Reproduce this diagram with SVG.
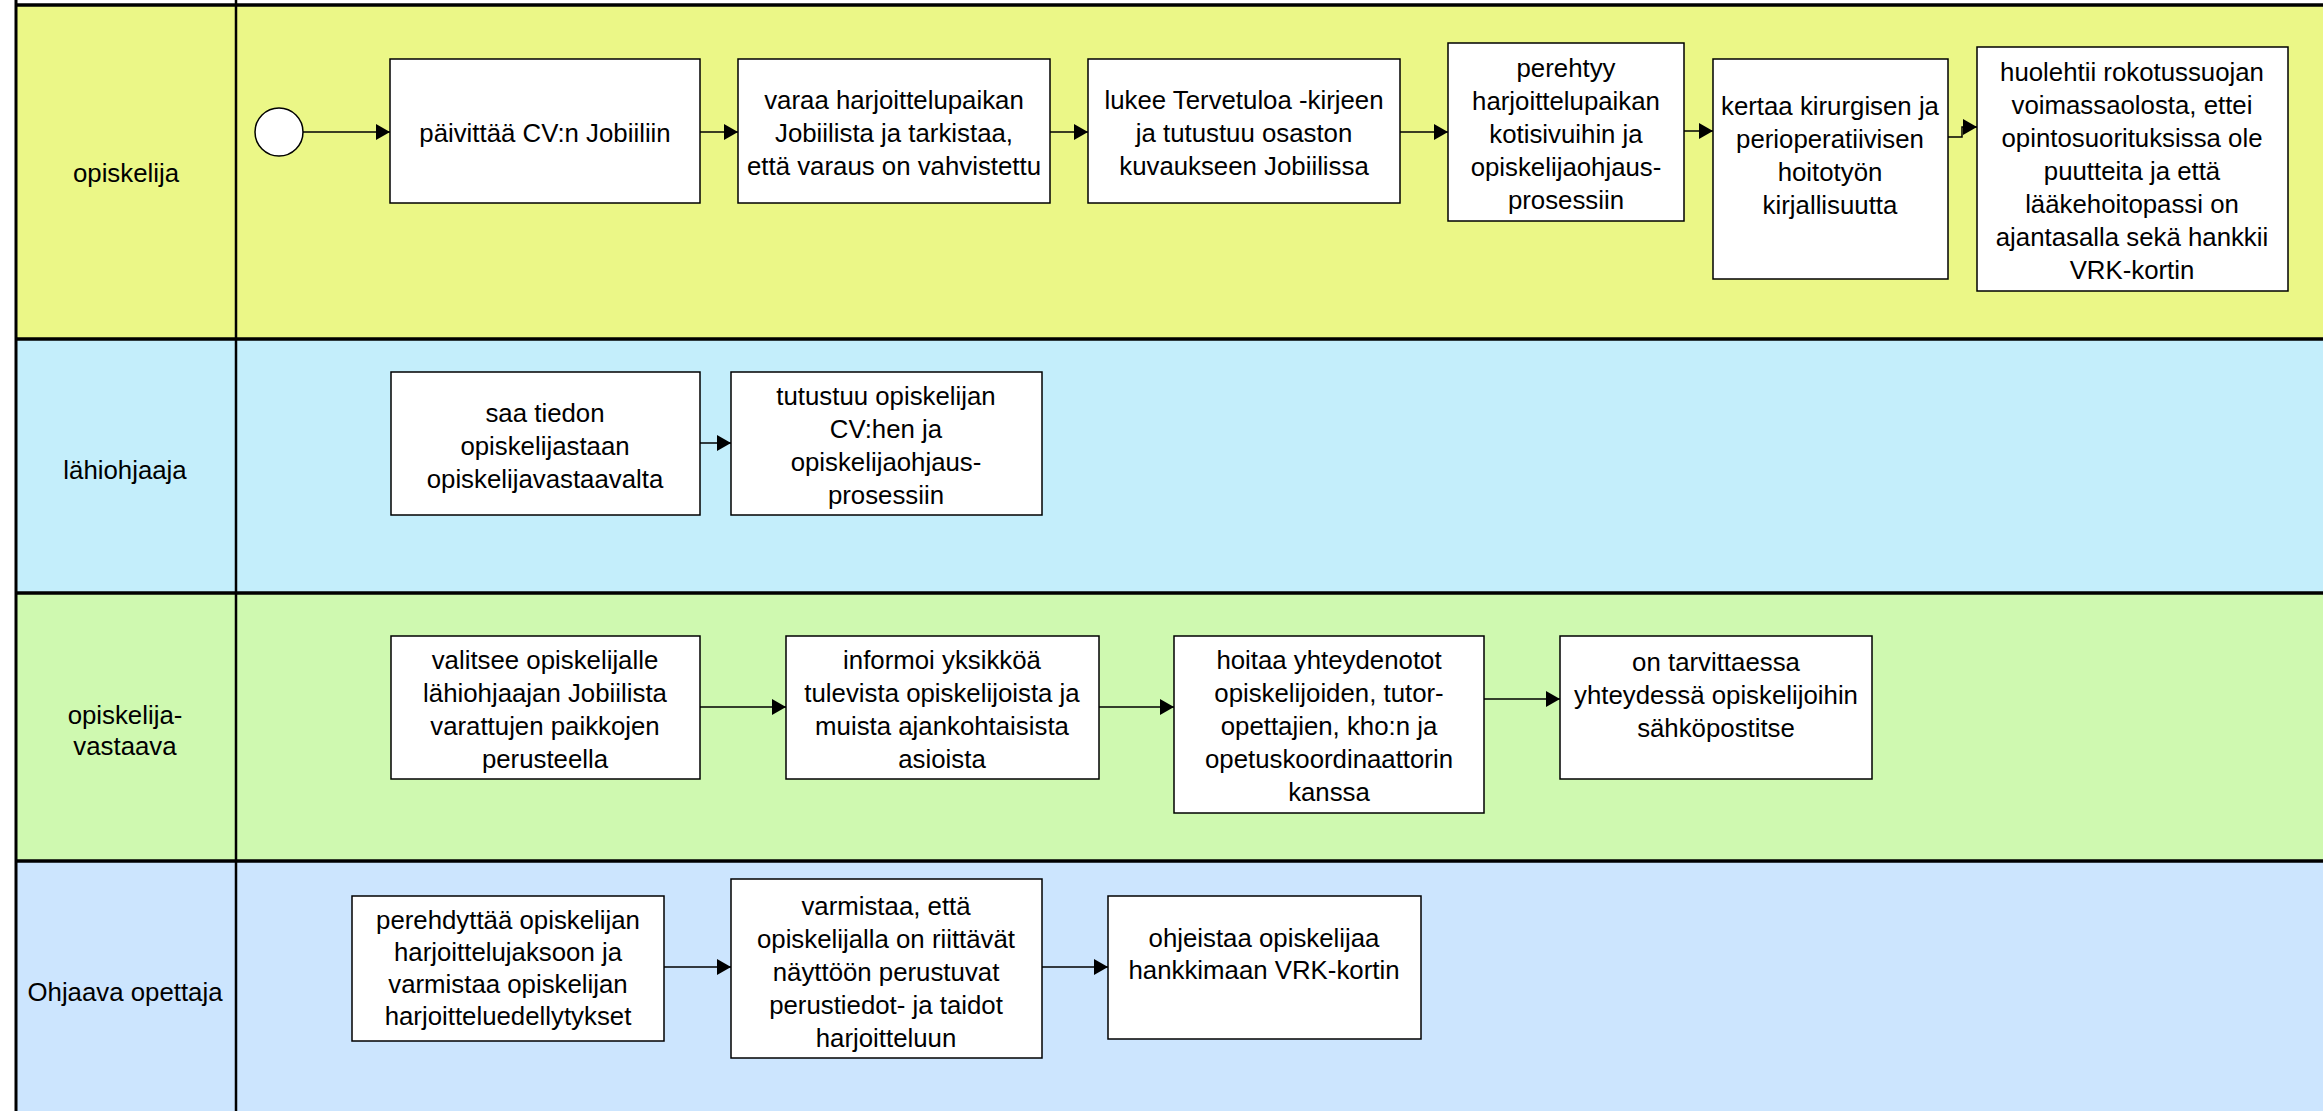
<svg xmlns="http://www.w3.org/2000/svg" width="2323" height="1111" viewBox="0 0 2323 1111">
<style>
.box{fill:#fff;stroke:#000;stroke-width:1.5}
.t{font-family:"Liberation Sans",Arial,sans-serif;font-size:25.8px;fill:#000;text-anchor:middle}
.conn{fill:none;stroke:#000;stroke-width:1.5;marker-end:url(#arr)}
.sep{stroke:#000;stroke-width:3.5}
</style>
<defs>
<marker id="arr" markerUnits="userSpaceOnUse" markerWidth="15" markerHeight="17" refX="14" refY="8" orient="auto">
<path d="M0,0 L14,8 L0,16 z" fill="#000"/>
</marker>
</defs>
<rect x="0" y="0" width="2323" height="1111" fill="#fff"/>
<g id="lanes">
<rect x="16" y="5" width="2307" height="334" fill="#EBF787"/>
<rect x="16" y="339" width="2307" height="254" fill="#C4EEFB"/>
<rect x="16" y="593" width="2307" height="268" fill="#CFF9B0"/>
<rect x="16" y="861" width="2307" height="250" fill="#CCE5FE"/>
<line class="sep" x1="16" y1="5" x2="2323" y2="5"/>
<line class="sep" x1="16" y1="339" x2="2323" y2="339"/>
<line class="sep" x1="16" y1="593" x2="2323" y2="593"/>
<line class="sep" x1="16" y1="861" x2="2323" y2="861"/>
<line x1="16" y1="0" x2="16" y2="1111" stroke="#000" stroke-width="3"/>
<line x1="236" y1="0" x2="236" y2="1111" stroke="#000" stroke-width="2.5"/>
<text class="t" x="126" y="182">opiskelija</text>
<text class="t" x="125" y="479">lähiohjaaja</text>
<text class="t" x="125" y="724">opiskelija-</text>
<text class="t" x="125" y="755">vastaava</text>
<text class="t" x="125" y="1001">Ohjaava opettaja</text>
</g>
<g id="connectors">
<line class="conn" x1="303" y1="132" x2="390" y2="132"/>
<line class="conn" x1="700" y1="132" x2="738" y2="132"/>
<line class="conn" x1="1050" y1="132" x2="1088" y2="132"/>
<line class="conn" x1="1400" y1="132" x2="1448" y2="132"/>
<line class="conn" x1="1684" y1="131" x2="1713" y2="131"/>
<path class="conn" d="M1948,137 H1962 V127 H1977"/>
<line class="conn" x1="700" y1="443" x2="731" y2="443"/>
<line class="conn" x1="700" y1="707" x2="786" y2="707"/>
<line class="conn" x1="1099" y1="707" x2="1174" y2="707"/>
<line class="conn" x1="1484" y1="699" x2="1560" y2="699"/>
<line class="conn" x1="664" y1="967" x2="731" y2="967"/>
<line class="conn" x1="1042" y1="967" x2="1108" y2="967"/>
</g>
<g id="start"><circle cx="279" cy="132" r="24" fill="#fff" stroke="#000" stroke-width="1.5"/></g>
<g id="n1"><rect class="box" x="390" y="59" width="310" height="144"/>
<text class="t" x="545" y="142">päivittää CV:n Jobiiliin</text></g>
<g id="n2"><rect class="box" x="738" y="59" width="312" height="144"/>
<text class="t" x="894" y="109">varaa harjoittelupaikan</text>
<text class="t" x="894" y="142">Jobiilista ja tarkistaa,</text>
<text class="t" x="894" y="175">että varaus on vahvistettu</text></g>
<g id="n3"><rect class="box" x="1088" y="59" width="312" height="144"/>
<text class="t" x="1244" y="109">lukee Tervetuloa -kirjeen</text>
<text class="t" x="1244" y="142">ja tutustuu osaston</text>
<text class="t" x="1244" y="175">kuvaukseen Jobiilissa</text></g>
<g id="n4"><rect class="box" x="1448" y="43" width="236" height="178"/>
<text class="t" x="1566" y="77">perehtyy</text>
<text class="t" x="1566" y="110">harjoittelupaikan</text>
<text class="t" x="1566" y="143">kotisivuihin ja</text>
<text class="t" x="1566" y="176">opiskelijaohjaus-</text>
<text class="t" x="1566" y="209">prosessiin</text></g>
<g id="n5"><rect class="box" x="1713" y="59" width="235" height="220"/>
<text class="t" x="1830" y="115">kertaa kirurgisen ja</text>
<text class="t" x="1830" y="148">perioperatiivisen</text>
<text class="t" x="1830" y="181">hoitotyön</text>
<text class="t" x="1830" y="214">kirjallisuutta</text></g>
<g id="n6"><rect class="box" x="1977" y="47" width="311" height="244"/>
<text class="t" x="2132" y="81">huolehtii rokotussuojan</text>
<text class="t" x="2132" y="114">voimassaolosta, ettei</text>
<text class="t" x="2132" y="147">opintosuorituksissa ole</text>
<text class="t" x="2132" y="180">puutteita ja että</text>
<text class="t" x="2132" y="213">lääkehoitopassi on</text>
<text class="t" x="2132" y="246">ajantasalla sekä hankkii</text>
<text class="t" x="2132" y="279">VRK-kortin</text></g>
<g id="l1"><rect class="box" x="391" y="372" width="309" height="143"/>
<text class="t" x="545" y="422">saa tiedon</text>
<text class="t" x="545" y="455">opiskelijastaan</text>
<text class="t" x="545" y="488">opiskelijavastaavalta</text></g>
<g id="l2"><rect class="box" x="731" y="372" width="311" height="143"/>
<text class="t" x="886" y="405">tutustuu opiskelijan</text>
<text class="t" x="886" y="438">CV:hen ja</text>
<text class="t" x="886" y="471">opiskelijaohjaus-</text>
<text class="t" x="886" y="504">prosessiin</text></g>
<g id="v1"><rect class="box" x="391" y="636" width="309" height="143"/>
<text class="t" x="545" y="669">valitsee opiskelijalle</text>
<text class="t" x="545" y="702">lähiohjaajan Jobiilista</text>
<text class="t" x="545" y="735">varattujen paikkojen</text>
<text class="t" x="545" y="768">perusteella</text></g>
<g id="v2"><rect class="box" x="786" y="636" width="313" height="143"/>
<text class="t" x="942" y="669">informoi yksikköä</text>
<text class="t" x="942" y="702">tulevista opiskelijoista ja</text>
<text class="t" x="942" y="735">muista ajankohtaisista</text>
<text class="t" x="942" y="768">asioista</text></g>
<g id="v3"><rect class="box" x="1174" y="636" width="310" height="177"/>
<text class="t" x="1329" y="669">hoitaa yhteydenotot</text>
<text class="t" x="1329" y="702">opiskelijoiden, tutor-</text>
<text class="t" x="1329" y="735">opettajien, kho:n ja</text>
<text class="t" x="1329" y="768">opetuskoordinaattorin</text>
<text class="t" x="1329" y="801">kanssa</text></g>
<g id="v4"><rect class="box" x="1560" y="636" width="312" height="143"/>
<text class="t" x="1716" y="671">on tarvittaessa</text>
<text class="t" x="1716" y="704">yhteydessä opiskelijoihin</text>
<text class="t" x="1716" y="737">sähköpostitse</text></g>
<g id="o1"><rect class="box" x="352" y="896" width="312" height="145"/>
<text class="t" x="508" y="929">perehdyttää opiskelijan</text>
<text class="t" x="508" y="961">harjoittelujaksoon ja</text>
<text class="t" x="508" y="993">varmistaa opiskelijan</text>
<text class="t" x="508" y="1025">harjoitteluedellytykset</text></g>
<g id="o2"><rect class="box" x="731" y="879" width="311" height="179"/>
<text class="t" x="886" y="915">varmistaa, että</text>
<text class="t" x="886" y="948">opiskelijalla on riittävät</text>
<text class="t" x="886" y="981">näyttöön perustuvat</text>
<text class="t" x="886" y="1014">perustiedot- ja taidot</text>
<text class="t" x="886" y="1047">harjoitteluun</text></g>
<g id="o3"><rect class="box" x="1108" y="896" width="313" height="143"/>
<text class="t" x="1264" y="947">ohjeistaa opiskelijaa</text>
<text class="t" x="1264" y="979">hankkimaan VRK-kortin</text></g>
</svg>
